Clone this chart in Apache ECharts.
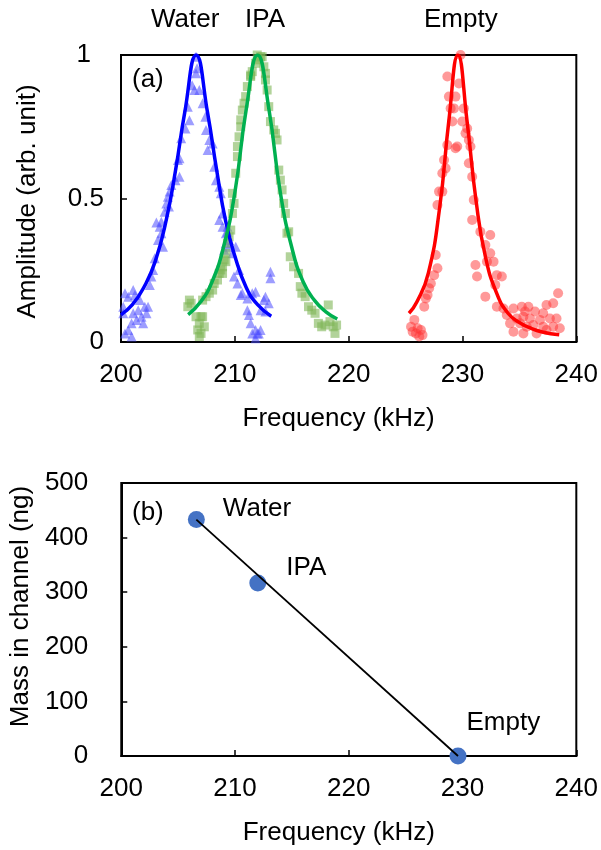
<!DOCTYPE html>
<html>
<head>
<meta charset="utf-8">
<script src="https://cdn.jsdelivr.net/npm/echarts@6/dist/echarts.min.js"></script>
<style>html,body{margin:0;padding:0;background:#fff;}#c{width:601px;height:850px;}</style>
</head>
<body>
<div id="c"></div>
<script>
// ---------- Panel (a): measured amplitude points [frequency kHz, amplitude] ----------
const waterPoints = [
[206.59,0.994],[206.68,0.954],[206.59,0.936],[206.45,0.878],[206.88,0.878],[206.25,0.895],
[205.87,0.82],[205.66,0.744],[206.01,0.773],[205.29,0.71],[205.14,0.64],[205.0,0.634],
[205.14,0.576],[204.79,0.564],[204.42,0.547],[204.27,0.524],[204.12,0.506],[203.98,0.483],
[204.21,0.472],[203.83,0.454],[203.54,0.419],[203.11,0.416],[203.4,0.402],[203.54,0.379],
[203.25,0.355],[203.69,0.332],[202.96,0.292],[202.82,0.251],[202.67,0.228],[202.53,0.199],
[200.35,0.17],[201.07,0.181],[200.64,0.158],[201.22,0.164],[201.66,0.146],[202.09,0.123],
[201.51,0.111],[201.07,0.1],[201.8,0.088],[201.37,0.077],[202.24,0.1],[202.38,0.123],
[201.95,0.065],[200.93,0.065],[200.64,0.042],[200.93,0.019],[200.35,0.03],[200.2,0.1],[200.2,0.123],
[207.17,0.832],[207.41,0.785],[207.47,0.739],[207.76,0.704],[208.05,0.692],[207.61,0.669],
[208.19,0.611],[208.34,0.564],[208.63,0.541],[208.77,0.518],[208.92,0.448],[209.35,0.402],
[209.21,0.379],[209.5,0.355],[209.79,0.309],[210.08,0.332],[210.37,0.251],[210.23,0.204],
[210.66,0.17],[211.1,0.152],[211.1,0.111],[211.39,0.065],[211.53,0.03],[211.82,0.042],
[212.11,0.03],[212.55,0.146],[212.69,0.158],
[208.63,0.425],[208.92,0.402],[209.35,0.384],[209.21,0.344],[209.06,0.321],[209.5,0.332],
[209.93,0.228],[210.52,0.164],[211.53,0.17],[211.82,0.175],[212.98,0.135],[211.24,0.094],
[211.97,0.03],[212.26,0.042],[211.82,0.013],[213.13,0.245],[213.13,0.222],[212.69,0.106],[212.26,0.111]
];
const ipaPoints = [
[206.01,0.146],[205.87,0.123],[206.16,0.135],[206.59,0.088],[206.88,0.065],[207.03,0.088],
[206.74,0.042],[206.88,0.019],[207.32,0.053],[207.17,0.146],[207.47,0.158],[207.76,0.17],
[208.05,0.181],[208.19,0.204],[208.48,0.216],[208.63,0.239],[208.77,0.251],[208.92,0.262],
[209.06,0.286],[209.21,0.309],[209.35,0.344],[209.5,0.367],[209.64,0.39],[209.79,0.448],
[209.93,0.483],[209.79,0.518],[210.08,0.588],[210.23,0.646],[210.23,0.681],[210.37,0.715],
[210.52,0.774],[210.66,0.808],[210.81,0.832],[210.95,0.855],[211.1,0.89],[211.39,0.925],
[211.53,0.942],[211.82,0.971],[211.97,1.0],[212.11,0.983],[212.4,0.994],[212.55,0.959],[212.69,0.936],
[207.17,0.088],[207.03,0.03],[208.92,0.239],[209.21,0.28],[210.52,0.75],[211.39,0.93],
[212.26,0.994],[212.69,0.913],[212.84,0.878],[212.98,0.82],[213.13,0.768],[213.42,0.739],
[213.57,0.727],[213.71,0.704],[213.86,0.599],[214.0,0.564],[214.15,0.53],[214.29,0.483],
[214.44,0.448],[214.58,0.379],[214.73,0.384],[214.87,0.297],[215.16,0.262],[215.6,0.239],
[215.75,0.193],[215.89,0.17],[216.18,0.158],[216.47,0.123],[216.76,0.111],[217.05,0.1],
[217.34,0.065],[217.63,0.053],[217.92,0.059],[218.21,0.129],[218.36,0.071],[218.65,0.053],
[218.8,0.03],[218.94,0.059]
];
const emptyPoints = [
[229.83,1.0],[228.67,0.925],[229.69,0.901],[228.81,0.855],[229.39,0.855],[228.96,0.814],
[229.25,0.814],[230.12,0.814],[229.11,0.768],[229.98,0.768],[230.41,0.744],[230.27,0.727],
[230.56,0.704],[228.67,0.686],[229.39,0.675],[229.54,0.681],[230.7,0.681],[228.38,0.634],
[230.56,0.623],[228.52,0.605],[228.23,0.588],[230.85,0.576],[227.94,0.524],[228.23,0.524],
[230.99,0.495],[227.8,0.477],[230.85,0.425],[231.57,0.384],[232.44,0.373],[232.01,0.338],
[227.65,0.303],[232.44,0.309],[232.15,0.28],[232.73,0.28],[227.8,0.257],[231.14,0.268],
[227.51,0.233],[231.28,0.228],[233.02,0.233],[233.46,0.228],[232.88,0.199],[227.22,0.204],
[227.07,0.187],[226.93,0.164],[226.78,0.152],[232.01,0.158],[226.64,0.123],[233.02,0.123],
[233.6,0.117],[234.48,0.117],[235.21,0.123],[235.79,0.123],[236.37,0.106],[235.5,0.106],
[237.09,0.1],[237.38,0.129],[237.97,0.135],[238.4,0.17],[233.89,0.094],[234.76,0.082],
[235.35,0.088],[235.93,0.082],[236.81,0.077],[237.68,0.082],[238.26,0.082],[234.18,0.065],
[235.06,0.065],[236.22,0.059],[237.09,0.053],[237.97,0.053],[238.55,0.048],[234.48,0.036],
[235.35,0.03],[236.51,0.03],[237.38,0.042],[235.64,0.053],[225.77,0.077],[225.48,0.053],
[226.06,0.048],[226.35,0.042],[225.91,0.03],[226.49,0.024],[226.2,0.019],[225.62,0.036]
];
// fitted curves
const waterFit = [[200,0.095],[201,0.13],[202,0.19],[203,0.28],[204,0.43],[204.8,0.6],[205.6,0.8],[206.6,1.0],[207.6,0.8],[208.4,0.6],[209.2,0.42],[210,0.3],[211,0.19],[212,0.13],[213.2,0.09]];
const ipaFit = [[205.9,0.095],[207,0.14],[208,0.21],[209,0.33],[210,0.52],[211,0.81],[212,1.0],[213,0.81],[214,0.52],[215,0.33],[216,0.21],[217,0.145],[218,0.105],[219,0.08]];
const emptyFit = [[225.3,0.1],[226,0.14],[227,0.24],[228,0.47],[228.8,0.77],[229.6,1.0],[230.4,0.77],[231.2,0.49],[232,0.3],[233,0.17],[234,0.1],[235,0.068],[236,0.048],[237,0.035],[238.5,0.025]];
const peakLabels = ['Water', 'IPA', 'Empty'];

// ---------- Panel (b): mass vs frequency ----------
const liquids = ['Water', 'IPA', 'Empty'];
const resonanceFreq = [206.6, 212.0, 229.6];
const massInChannel = [433, 317, 0];
const massFit = [[206.6, 433], [229.6, 0]];

const xTicks = { min: 200, max: 240, interval: 10 };

const FF = '"Liberation Sans", Arial, sans-serif';
const FS = 26;
const txt = { color: '#000', fontFamily: FF, fontSize: FS };

function xAxisCfg(gridIndex, labelMargin, nameGap) {
  return {
    gridIndex, type: 'value', min: xTicks.min, max: xTicks.max, interval: xTicks.interval,
    name: 'Frequency (kHz)', nameLocation: 'middle', nameGap,
    nameTextStyle: Object.assign({ padding: [0, 20, 0, 0] }, txt),
    axisLine: { show: true, onZero: false, lineStyle: { color: '#000', width: 2 } },
    axisTick: { show: true, inside: true, length: 6, lineStyle: { color: '#000', width: 1.5 } },
    axisLabel: Object.assign({ margin: labelMargin }, txt),
    splitLine: { show: false }
  };
}

const chart = echarts.init(document.getElementById('c'), null, { renderer: 'canvas' });

const option = {
  animation: false,
  backgroundColor: '#fff',
  grid: [
    { left: 121, right: 21, top: 55, height: 287, show: true, borderColor: '#000', borderWidth: 2, backgroundColor: 'transparent' },
    { left: 119, right: 21, top: 483, height: 273, show: true, borderColor: '#000', borderWidth: 2, backgroundColor: 'transparent' }
  ],
  xAxis: [ xAxisCfg(0, 20, 64), xAxisCfg(1, 20, 64) ],
  yAxis: [
    {
      gridIndex: 0, type: 'value', min: 0, max: 1, interval: 0.5,
      name: 'Amplitude (arb. unit)', nameLocation: 'middle', nameGap: 80,
      nameTextStyle: Object.assign({ padding: [0, 6, 0, 0] }, txt),
      axisLine: { show: true, lineStyle: { color: '#000', width: 2 } },
      axisTick: { show: true, inside: true, length: 6, lineStyle: { color: '#000', width: 1.5 } },
      axisLabel: Object.assign({ margin: 17,
        formatter: v => v === 1 ? '{p|1}' : String(v),
        rich: { p: { fontFamily: FF, fontSize: FS, color: '#000', padding: [0, 13, 0, 0] } }
      }, txt),
      splitLine: { show: false }
    },
    {
      gridIndex: 1, type: 'value', min: 0, max: 500, interval: 100,
      name: 'Mass in channel (ng)', nameLocation: 'middle', nameGap: 86,
      nameTextStyle: Object.assign({ padding: [0, 0, 0, 26] }, txt),
      axisLine: { show: true, lineStyle: { color: '#000', width: 2 } },
      axisTick: { show: true, inside: true, length: 6, lineStyle: { color: '#000', width: 1.5 } },
      axisLabel: Object.assign({ margin: 33 }, txt),
      splitLine: { show: false }
    }
  ],
  graphic: [
    { type: 'text', left: 132, top: 67, style: { text: '(a)', font: FS + 'px ' + FF, fill: '#000' } },
    { type: 'text', left: 132, top: 500, style: { text: '(b)', font: FS + 'px ' + FF, fill: '#000' } },
    { type: 'text', left: 151, top: 7, style: { text: peakLabels[0], font: FS + 'px ' + FF, fill: '#000' } },
    { type: 'text', left: 245, top: 7, style: { text: peakLabels[1], font: FS + 'px ' + FF, fill: '#000' } },
    { type: 'text', left: 424, top: 7, style: { text: peakLabels[2], font: FS + 'px ' + FF, fill: '#000' } }
  ],
  series: [
    { type: 'scatter', xAxisIndex: 0, yAxisIndex: 0, data: waterPoints, symbol: 'triangle', symbolSize: 10,
      itemStyle: { color: '#4d4dff', opacity: 0.55 }, z: 2 },
    { type: 'scatter', xAxisIndex: 0, yAxisIndex: 0, data: ipaPoints, symbol: 'rect', symbolSize: 9,
      itemStyle: { color: '#7fb657', opacity: 0.6 }, z: 2 },
    { type: 'scatter', xAxisIndex: 0, yAxisIndex: 0, data: emptyPoints, symbol: 'circle', symbolSize: 10,
      itemStyle: { color: '#ff3333', opacity: 0.5 }, z: 2 },
    { type: 'line', xAxisIndex: 0, yAxisIndex: 0, data: waterFit, smooth: 0.5, showSymbol: false,
      lineStyle: { color: '#0000ff', width: 3.5 }, z: 5 },
    { type: 'line', xAxisIndex: 0, yAxisIndex: 0, data: ipaFit, smooth: 0.5, showSymbol: false,
      lineStyle: { color: '#00b050', width: 3.5 }, z: 5 },
    { type: 'line', xAxisIndex: 0, yAxisIndex: 0, data: emptyFit, smooth: 0.5, showSymbol: false,
      lineStyle: { color: '#ff0000', width: 3.5 }, z: 5 },
    { type: 'scatter', xAxisIndex: 1, yAxisIndex: 1,
      data: liquids.map((n, i) => ({
        name: n, value: [resonanceFreq[i], massInChannel[i]],
        label: { offset: [[18, -11], [20, -15], [0, -33]][i] }
      })),
      symbol: 'circle', symbolSize: 17, itemStyle: { color: '#4472c4', opacity: 1 },
      label: { show: true, position: 'right', distance: 0, formatter: p => p.name,
        color: '#000', opacity: 1, textBorderWidth: 0, fontFamily: FF, fontSize: FS },
      emphasis: { disabled: true },
      z: 3 },
    { type: 'line', xAxisIndex: 1, yAxisIndex: 1, data: massFit, showSymbol: false,
      lineStyle: { color: '#000', width: 1.8 }, z: 6 }
  ]
};
chart.setOption(option);
</script>
</body>
</html>
